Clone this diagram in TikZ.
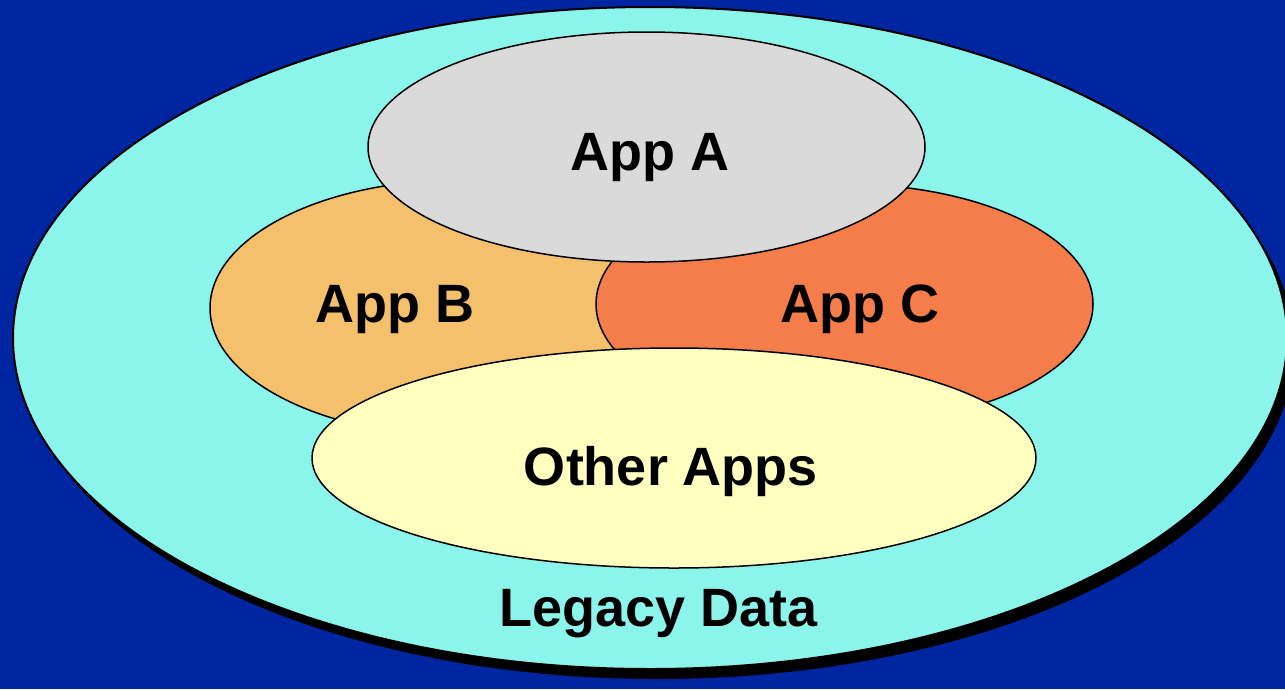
\documentclass[tikz,border=0pt]{standalone}
\usepackage{fontspec}
\setmainfont{Liberation Sans}
\usetikzlibrary{shapes.geometric,shadows}
\definecolor{bgblue}{RGB}{0,37,160}
\definecolor{legcyan}{RGB}{140,245,235}
\definecolor{appagray}{RGB}{218,218,218}
\definecolor{appborange}{RGB}{245,192,108}
\definecolor{appcorange}{RGB}{244,125,74}
\definecolor{otheryellow}{RGB}{255,255,192}
\tikzset{
  blob/.style={ellipse, draw=black, line width=1.5pt, inner sep=0pt, outer sep=0pt},
  lbl/.style={anchor=base, inner sep=0pt, font=\fontsize{54}{60}\selectfont\bfseries, text=black}
}
\begin{document}
\begin{tikzpicture}[x=1pt,y=-1pt]
\useasboundingbox (0,0) rectangle (1285,689);
\fill[bgblue] (0,0) rectangle (1285,689);
% big ellipse with shadow
\node[blob, line width=2pt, fill=legcyan, minimum width=1274pt, minimum height=662pt,
      drop shadow={shadow xshift=7pt, shadow yshift=-10pt, opacity=1, fill=black}] (legacy) at (650,338) {};
\node[blob, fill=appborange, minimum width=500pt, minimum height=256pt] (appb) at (460,308) {};
\node[blob, fill=appcorange, minimum width=497pt, minimum height=240pt] (appc) at (844.5,304) {};
\node[blob, fill=otheryellow, minimum width=724pt, minimum height=220pt] (other) at (674,458) {};
\node[blob, fill=appagray, minimum width=557pt, minimum height=230pt] (appa) at (646.5,147) {};
% labels
\node[lbl] (ta) at (650,170) {App A};
\node[lbl] (tb) at (395,322) {App B};
\node[lbl] (tc) at (860,322) {App C};
\node[lbl] (to) at (671,485) {Other Apps};
\node[lbl] (tl) at (659,626) {Legacy Data};
\end{tikzpicture}
\end{document}
